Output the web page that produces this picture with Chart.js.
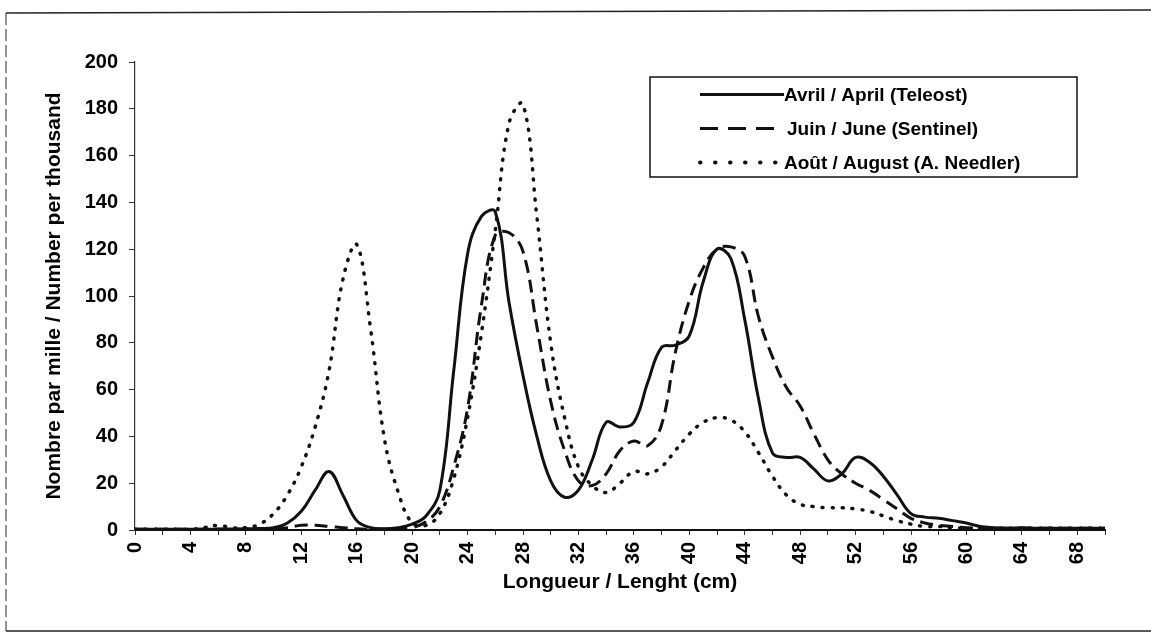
<!DOCTYPE html>
<html>
<head>
<meta charset="utf-8">
<title>Longueur / Lenght (cm)</title>
<script src="https://cdn.jsdelivr.net/npm/chart.js@4.4.1/dist/chart.umd.min.js"></script>
<style>
    html, body { margin: 0; padding: 0; background: #fff; }
    #cadre { width: 1151px; height: 637px; position: relative; }
</style>
</head>
<body>
<div id="cadre"><canvas id="frequences"></canvas></div>
<script>
// longueurs en cm (axe des x)
const longueurs = [0, 1, 2, 3, 4, 5, 6, 7, 8, 9, 10, 11, 12, 13, 14, 15, 16, 17, 18, 19,
    20, 21, 22, 23, 24, 25, 26, 27, 28, 29, 30, 31, 32, 33, 34, 35, 36, 37, 38, 39,
    40, 41, 42, 43, 44, 45, 46, 47, 48, 49, 50, 51, 52, 53, 54, 55, 56, 57, 58, 59,
    60, 61, 62, 63, 64, 65, 66, 67, 68, 69, 70];

// nombre par mille, un relevé par mission
const avril = [0.3, 0.3, 0.3, 0.3, 0.3, 0.3, 0.4, 0.4, 0.5, 0.6, 1, 3, 8, 17, 25, 15, 4, 1, 0.5, 1,
    2.5, 6, 17, 68, 118, 134, 136, 97, 66, 40, 21, 14, 17, 30, 46, 44, 46, 63, 78, 79,
    83, 106, 120, 116, 90, 56, 33, 31, 31, 26, 21, 24, 31, 29, 23, 15, 7, 5.5, 5, 4,
    3, 1.5, 1, 0.8, 1, 0.8, 0.8, 0.8, 0.8, 0.8, 0.8];
const juin = [0.3, 0.3, 0.3, 0.3, 0.3, 0.3, 0.3, 0.3, 0.3, 0.3, 0.3, 1, 2, 2, 1.5, 1, 0.5, 0.3, 0.3, 0.5,
    1, 3.5, 10, 27, 52, 96, 126, 127, 119, 87, 55, 34, 21, 19, 24, 34, 38, 36, 45, 76,
    98, 112, 120, 121, 117, 91, 74, 61, 53, 41, 30, 24, 20, 17, 13, 9, 5, 3, 2, 1.5,
    1, 0.8, 0.8, 0.8, 0.8, 0.8, 0.8, 0.8, 0.8, 0.8, 0.8];
const aout = [0.3, 0.3, 0.3, 0.3, 0.3, 1, 2, 1, 1, 2.5, 7, 15, 27, 44, 68, 107, 122, 86, 39, 16,
    3, 2, 7, 22, 48, 84, 128, 174, 182, 134, 80, 48, 27, 19, 16, 20, 25, 24, 27, 34,
    41, 46, 48, 47, 42, 33, 23, 15, 11, 10, 9.5, 9.5, 9, 8, 6, 4, 2.5, 1.5, 1.5, 1,
    0.8, 0.8, 0.8, 0.8, 0.8, 0.8, 0.8, 0.8, 0.8, 0.8, 0.8];

const noms = ["Avril / April (Teleost)", "Juin / June (Sentinel)", "Août / August (A. Needler)"];

const police = "'Liberation Sans', Arial, sans-serif";

function points(valeurs) {
    return longueurs.map((x, i) => ({ x: x, y: valeurs[i] }));
}

// fond blanc et cadre de la figure
const cadre = {
    id: "cadre",
    beforeDraw(chart) {
        const ctx = chart.ctx;
        ctx.save();
        ctx.fillStyle = "#fff";
        ctx.fillRect(0, 0, chart.width, chart.height);
        ctx.strokeStyle = "#222";
        ctx.lineWidth = 1.5;
        ctx.beginPath();
        ctx.moveTo(6, 13);
        ctx.lineTo(1151, 10);
        ctx.moveTo(6, 631);
        ctx.lineTo(1151, 631);
        ctx.stroke();
        ctx.lineWidth = 1;
        ctx.setLineDash([12, 4]);
        ctx.beginPath();
        ctx.moveTo(6, 13);
        ctx.lineTo(6, 631);
        ctx.stroke();
        ctx.restore();
    }
};

// légende encadrée dans le coin supérieur droit
const legendeDash = [[], [18, 10], [0.5, 14.5]];
const legendeFin = [784, 777, 781];
const legende = {
    id: "legende",
    afterDraw(chart) {
        const ctx = chart.ctx;
        ctx.save();
        ctx.strokeStyle = "#111";
        ctx.lineWidth = 1.5;
        ctx.strokeRect(650, 77, 427, 100);
        chart.data.datasets.forEach((ds, i) => {
            const y = 94.5 + i * 34;
            ctx.beginPath();
            ctx.setLineDash(legendeDash[i]);
            ctx.lineCap = i === 2 ? "round" : "butt";
            ctx.lineWidth = i === 2 ? 4 : 3;
            ctx.strokeStyle = ds.borderColor;
            ctx.moveTo(700, y);
            ctx.lineTo(legendeFin[i], y);
            ctx.stroke();
            ctx.setLineDash([]);
            ctx.fillStyle = "#000";
            ctx.font = "bold 19px " + police;
            ctx.textBaseline = "middle";
            ctx.fillText(ds.label, i === 1 ? 787 : 784, y + 1);
        });
        ctx.restore();
    }
};

new Chart(document.getElementById("frequences"), {
    type: "line",
    data: {
        datasets: [
            {
                label: noms[0],
                data: points(avril),
                borderColor: "#111",
                borderWidth: 3,
            },
            {
                label: noms[1],
                data: points(juin),
                borderColor: "#111",
                borderWidth: 3,
                borderDash: [13, 7],
            },
            {
                label: noms[2],
                data: points(aout),
                borderColor: "#111",
                borderWidth: 3.5,
                borderDash: [1, 9],
                borderCapStyle: "round",
            },
        ],
    },
    options: {
        responsive: true,
        maintainAspectRatio: false,
        animation: false,
        layout: { padding: { top: 62, right: 46, bottom: 0, left: 0 } },
        elements: {
            point: { radius: 0, hoverRadius: 0 },
            line: { tension: 0.4, fill: false },
        },
        plugins: {
            legend: { display: false },
            tooltip: { enabled: false },
        },
        scales: {
            x: {
                type: "linear",
                min: 0,
                max: 70,
                afterFit: (scale) => { scale.height = 107; },
                border: { display: true, color: "#111", width: 2 },
                grid: { drawOnChartArea: false, drawTicks: true, tickLength: 5, color: "#333" },
                ticks: {
                    stepSize: 2,
                    autoSkip: false,
                    minRotation: 90,
                    maxRotation: 90,
                    padding: 7,
                    color: "#000",
                    font: { family: police, size: 20, weight: "bold" },
                    callback: (v) => (v % 4 === 0 && v < 70 ? String(v) : ""),
                },
                title: {
                    display: true,
                    text: "Longueur / Lenght (cm)",
                    color: "#000",
                    font: { family: police, size: 21, weight: "bold" },
                    padding: { top: 0, bottom: 42 },
                },
            },
            y: {
                min: 0,
                max: 200,
                afterFit: (scale) => { scale.width = 135; },
                border: { display: true, color: "#333", width: 1.2, dash: [9, 5] },
                grid: { drawOnChartArea: false, drawTicks: true, tickLength: 6, color: "#333" },
                ticks: {
                    stepSize: 20,
                    padding: 11,
                    color: "#000",
                    font: { family: police, size: 20, weight: "bold" },
                },
                title: {
                    display: true,
                    text: "Nombre par mille / Number per thousand",
                    color: "#000",
                    font: { family: police, size: 21, weight: "bold" },
                    padding: { top: 42, bottom: 0 },
                },
            },
        },
    },
    plugins: [cadre, legende],
});
</script>
</body>
</html>
